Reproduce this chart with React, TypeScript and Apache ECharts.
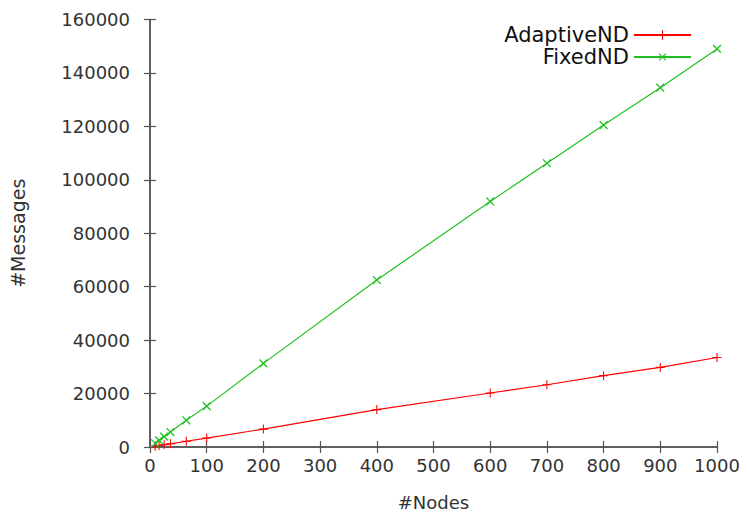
import React, { useEffect, useRef } from "react";
import * as echarts from "echarts";

const nodes = [9, 16, 25, 36, 64, 100, 200, 400, 600, 700, 800, 900, 1000];
const adaptiveND = [300, 550, 850, 1200, 2150, 3350, 6700, 14000, 20200, 23300, 26700, 29800, 33500];
const fixedND = [1400, 2500, 3900, 5600, 10000, 15300, 31300, 62500, 91900, 106200, 120500, 134500, 149000];
const seriesNames = ["AdaptiveND", "FixedND"];
const xTitle = "#Nodes";
const yTitle = "#Messages";

const PLUS = "path://M4.4,0h1.2v10h-1.2z M0,4.4h10v1.2h-10z";
const FONT = "DejaVu Sans";

export default function App() {
  const ref = useRef<HTMLDivElement>(null);
  useEffect(() => {
    if (!ref.current) return;
    const chart = echarts.init(ref.current, null, { renderer: "svg" });
    const axisLine = { show: true, lineStyle: { color: "#555", width: 1.5 } };
    const tick = { show: true, inside: true, length: 6, lineStyle: { color: "#555", width: 1.2 } };
    const label = { color: "#333", fontSize: 18, fontFamily: FONT, formatter: (v: number) => String(v) };
    chart.setOption({
      animation: false,
      backgroundColor: "#fff",
      grid: { left: 150, right: 30, top: 19.5, bottom: 65.5, containLabel: false },
      legend: {
        orient: "vertical",
        right: 55,
        top: 24.5,
        padding: 0,
        align: "right",
        itemWidth: 57,
        itemHeight: 12,
        itemGap: 1,
        textStyle: { fontSize: 21, fontFamily: FONT, color: "#111" },
        data: seriesNames,
      },
      xAxis: [
        {
          type: "value",
          min: 0,
          max: 1000,
          interval: 100,
          name: xTitle,
          nameLocation: "middle",
          nameGap: 46,
          nameTextStyle: { fontSize: 18, fontFamily: FONT, color: "#333" },
          axisLine,
          axisTick: tick,
          axisLabel: { ...label, margin: 9 },
          splitLine: { show: false },
        },
        {
          type: "value",
          position: "top",
          min: 0,
          max: 1000,
          interval: 100,
          axisLine,
          axisTick: tick,
          axisLabel: { show: false },
          splitLine: { show: false },
        },
      ],
      yAxis: [
        {
          type: "value",
          min: 0,
          max: 160000,
          interval: 20000,
          name: yTitle,
          nameLocation: "middle",
          nameGap: 123,
          nameTextStyle: { fontSize: 19, fontFamily: FONT, color: "#333" },
          axisLine,
          axisTick: tick,
          axisLabel: { ...label, margin: 20 },
          splitLine: { show: false },
        },
        {
          type: "value",
          position: "right",
          min: 0,
          max: 160000,
          interval: 20000,
          axisLine,
          axisTick: tick,
          axisLabel: { show: false },
          splitLine: { show: false },
        },
      ],
      series: [
        {
          name: seriesNames[0],
          type: "line",
          data: nodes.map((n, i) => [n, adaptiveND[i]]),
          symbol: PLUS,
          symbolSize: 9,
          showAllSymbol: true,
          lineStyle: { color: "#ff0000", width: 1.2 },
          itemStyle: { color: "#ff0000" },
        },
        {
          name: seriesNames[1],
          type: "line",
          data: nodes.map((n, i) => [n, fixedND[i]]),
          symbol: PLUS,
          symbolRotate: 45,
          symbolSize: 11,
          showAllSymbol: true,
          lineStyle: { color: "#20c020", width: 1.2 },
          itemStyle: { color: "#20c020" },
        },
      ],
    });
    return () => chart.dispose();
  }, []);
  return <div ref={ref} style={{ width: 747, height: 516, position: "absolute", left: 0, top: 0 }} />;
}
